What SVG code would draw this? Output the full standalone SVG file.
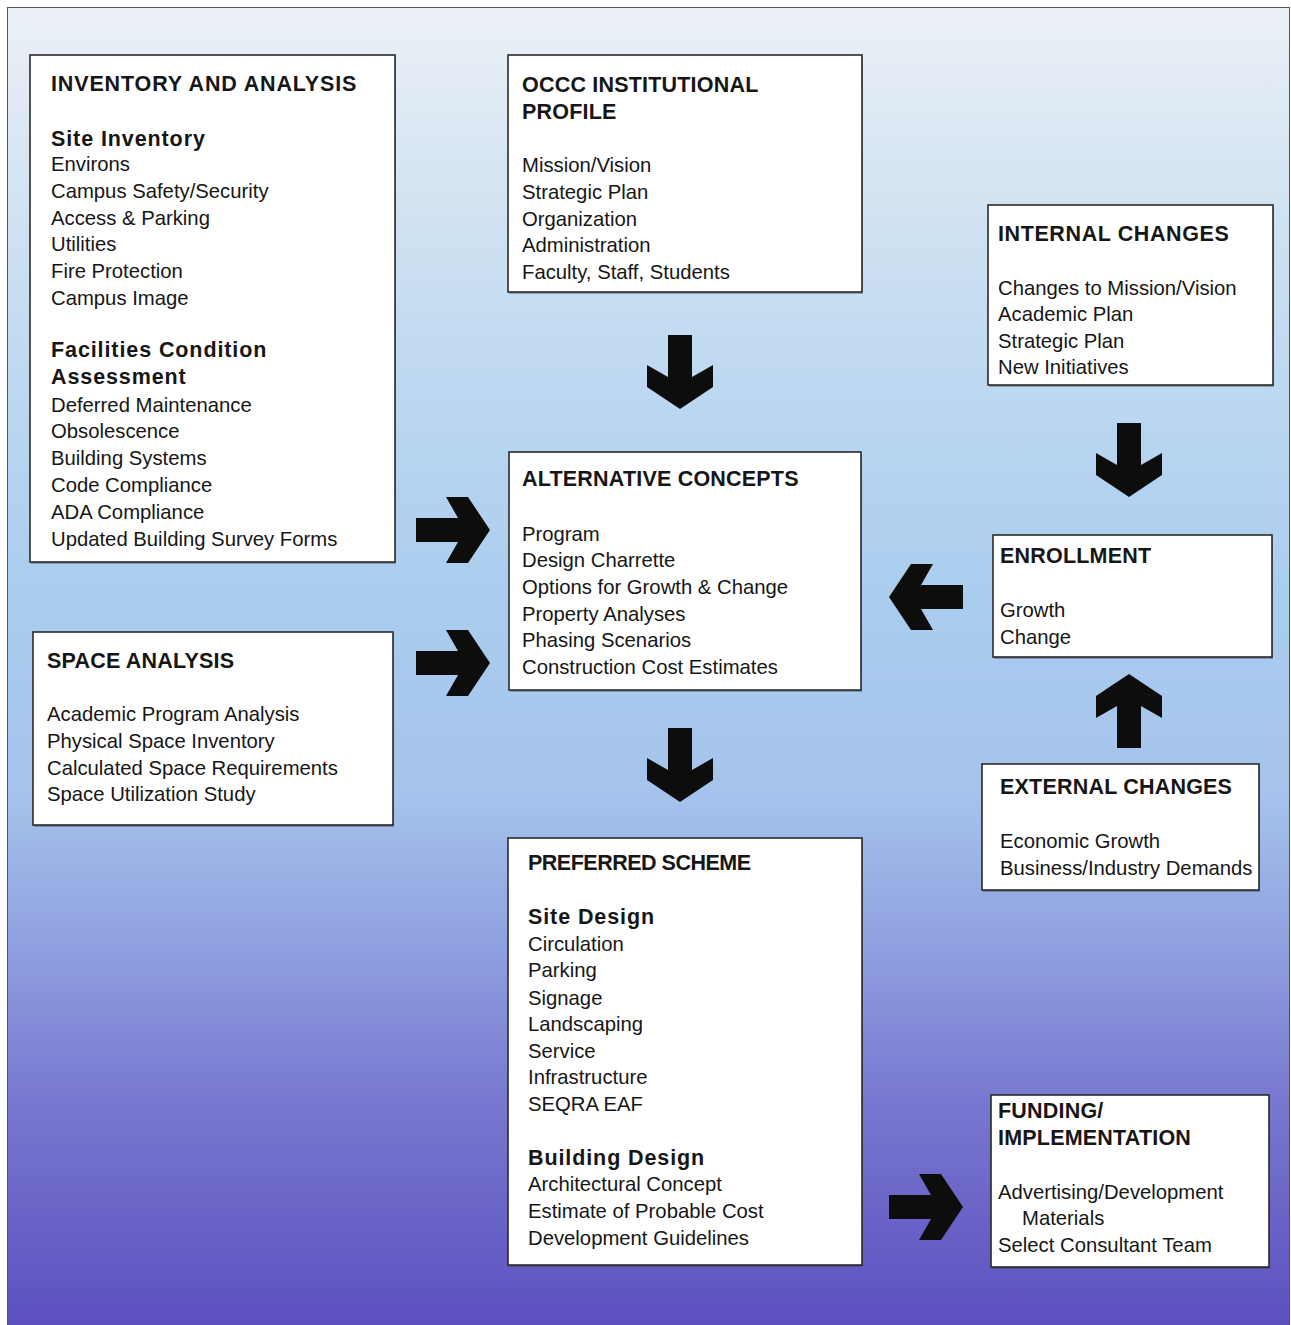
<svg xmlns="http://www.w3.org/2000/svg" width="1291" height="1325" viewBox="0 0 1291 1325">
<defs>
<linearGradient id="bg" x1="0" y1="0" x2="0" y2="1325" gradientUnits="userSpaceOnUse">
<stop offset="0" stop-color="#edf1f7"/>
<stop offset="0.14" stop-color="#d4e4f2"/>
<stop offset="0.3" stop-color="#bcd7f1"/>
<stop offset="0.45" stop-color="#aacdee"/>
<stop offset="0.6" stop-color="#a5c3ec"/>
<stop offset="0.72" stop-color="#8e9edf"/>
<stop offset="0.83" stop-color="#7878d0"/>
<stop offset="1" stop-color="#5c50bf"/>
</linearGradient>
<path id="arr" d="M-12,0 L-12,42 L-33,30 L-33,52 L0,74 L33,52 L33,30 L12,42 L12,0 Z"/>
<style>
.box{fill:#ffffff;stroke:#2a2a2a;stroke-width:1.6}
.sh{fill:#333;opacity:0.35}
text{font-family:"Liberation Sans",Arial,sans-serif;fill:#161616}
.h{font-size:21.5px;font-weight:bold;letter-spacing:0.2px}
.s{font-size:21.5px;font-weight:bold;letter-spacing:0.9px}
.b{font-size:20.3px}
.a{fill:#0d0d0d}
</style>
</defs>
<rect x="0" y="0" width="1291" height="1325" fill="#ffffff"/>
<rect x="7.5" y="7.5" width="1282" height="1320" fill="url(#bg)" stroke="#555" stroke-width="1"/>

<g id="connectors">
<use href="#arr" class="a" transform="translate(680,335)"/>
<use href="#arr" class="a" transform="translate(416,530) rotate(-90)"/>
<use href="#arr" class="a" transform="translate(416,663) rotate(-90)"/>
<use href="#arr" class="a" transform="translate(1129,423)"/>
<use href="#arr" class="a" transform="translate(963,597) rotate(90)"/>
<use href="#arr" class="a" transform="translate(1129,748) rotate(180)"/>
<use href="#arr" class="a" transform="translate(680,728)"/>
<use href="#arr" class="a" transform="translate(889,1207) rotate(-90)"/>
</g>

<g id="inventory">
<rect class="sh" x="31" y="57" width="365" height="507"/>
<rect class="box" x="30" y="55" width="365" height="507"/>
<text class="h" x="51" y="91" style="letter-spacing:0.85px">INVENTORY AND ANALYSIS</text>
<text class="s" x="51" y="146">Site Inventory</text>
<text class="b" x="51" y="171">Environs</text>
<text class="b" x="51" y="198">Campus Safety/Security</text>
<text class="b" x="51" y="225">Access &amp; Parking</text>
<text class="b" x="51" y="251">Utilities</text>
<text class="b" x="51" y="278">Fire Protection</text>
<text class="b" x="51" y="305">Campus Image</text>
<text class="s" x="51" y="357">Facilities Condition</text>
<text class="s" x="51" y="384">Assessment</text>
<text class="b" x="51" y="412">Deferred Maintenance</text>
<text class="b" x="51" y="438">Obsolescence</text>
<text class="b" x="51" y="465">Building Systems</text>
<text class="b" x="51" y="492">Code Compliance</text>
<text class="b" x="51" y="519">ADA Compliance</text>
<text class="b" x="51" y="546">Updated Building Survey Forms</text>
</g>

<g id="profile">
<rect class="sh" x="509" y="57" width="354" height="237"/>
<rect class="box" x="508" y="55" width="354" height="237"/>
<text class="h" x="522" y="92">OCCC INSTITUTIONAL</text>
<text class="h" x="522" y="119">PROFILE</text>
<text class="b" x="522" y="172">Mission/Vision</text>
<text class="b" x="522" y="199">Strategic Plan</text>
<text class="b" x="522" y="226">Organization</text>
<text class="b" x="522" y="252">Administration</text>
<text class="b" x="522" y="279">Faculty, Staff, Students</text>
</g>

<g id="internal">
<rect class="sh" x="989" y="207" width="285" height="180"/>
<rect class="box" x="988" y="205" width="285" height="180"/>
<text class="h" x="998" y="241" style="letter-spacing:0.6px">INTERNAL CHANGES</text>
<text class="b" x="998" y="295">Changes to Mission/Vision</text>
<text class="b" x="998" y="321">Academic Plan</text>
<text class="b" x="998" y="348">Strategic Plan</text>
<text class="b" x="998" y="374">New Initiatives</text>
</g>

<g id="alternatives">
<rect class="sh" x="510" y="454" width="352" height="238"/>
<rect class="box" x="509" y="452" width="352" height="238"/>
<text class="h" x="522" y="486">ALTERNATIVE CONCEPTS</text>
<text class="b" x="522" y="541">Program</text>
<text class="b" x="522" y="567">Design Charrette</text>
<text class="b" x="522" y="594">Options for Growth &amp; Change</text>
<text class="b" x="522" y="621">Property Analyses</text>
<text class="b" x="522" y="647">Phasing Scenarios</text>
<text class="b" x="522" y="674">Construction Cost Estimates</text>
</g>

<g id="enrollment">
<rect class="sh" x="994" y="537" width="279" height="122"/>
<rect class="box" x="993" y="535" width="279" height="122"/>
<text class="h" x="1000" y="563">ENROLLMENT</text>
<text class="b" x="1000" y="617">Growth</text>
<text class="b" x="1000" y="644">Change</text>
</g>

<g id="space">
<rect class="sh" x="34" y="634" width="360" height="193"/>
<rect class="box" x="33" y="632" width="360" height="193"/>
<text class="h" x="47" y="668">SPACE ANALYSIS</text>
<text class="b" x="47" y="721">Academic Program Analysis</text>
<text class="b" x="47" y="748">Physical Space Inventory</text>
<text class="b" x="47" y="775">Calculated Space Requirements</text>
<text class="b" x="47" y="801">Space Utilization Study</text>
</g>

<g id="external">
<rect class="sh" x="983" y="766" width="277" height="126"/>
<rect class="box" x="982" y="764" width="277" height="126"/>
<text class="h" x="1000" y="794">EXTERNAL CHANGES</text>
<text class="b" x="1000" y="848">Economic Growth</text>
<text class="b" x="1000" y="875">Business/Industry Demands</text>
</g>

<g id="preferred">
<rect class="sh" x="509" y="840" width="354" height="427"/>
<rect class="box" x="508" y="838" width="354" height="427"/>
<text class="h" x="528" y="870" style="letter-spacing:-0.5px">PREFERRED SCHEME</text>
<text class="s" x="528" y="924">Site Design</text>
<text class="b" x="528" y="951">Circulation</text>
<text class="b" x="528" y="977">Parking</text>
<text class="b" x="528" y="1005">Signage</text>
<text class="b" x="528" y="1031">Landscaping</text>
<text class="b" x="528" y="1058">Service</text>
<text class="b" x="528" y="1084">Infrastructure</text>
<text class="b" x="528" y="1111">SEQRA EAF</text>
<text class="s" x="528" y="1165">Building Design</text>
<text class="b" x="528" y="1191">Architectural Concept</text>
<text class="b" x="528" y="1218">Estimate of Probable Cost</text>
<text class="b" x="528" y="1245">Development Guidelines</text>
</g>

<g id="funding">
<rect class="sh" x="992" y="1097" width="278" height="172"/>
<rect class="box" x="991" y="1095" width="278" height="172"/>
<text class="h" x="998" y="1118">FUNDING/</text>
<text class="h" x="998" y="1145">IMPLEMENTATION</text>
<text class="b" x="998" y="1199">Advertising/Development</text>
<text class="b" x="1022" y="1225">Materials</text>
<text class="b" x="998" y="1252">Select Consultant Team</text>
</g>
</svg>
